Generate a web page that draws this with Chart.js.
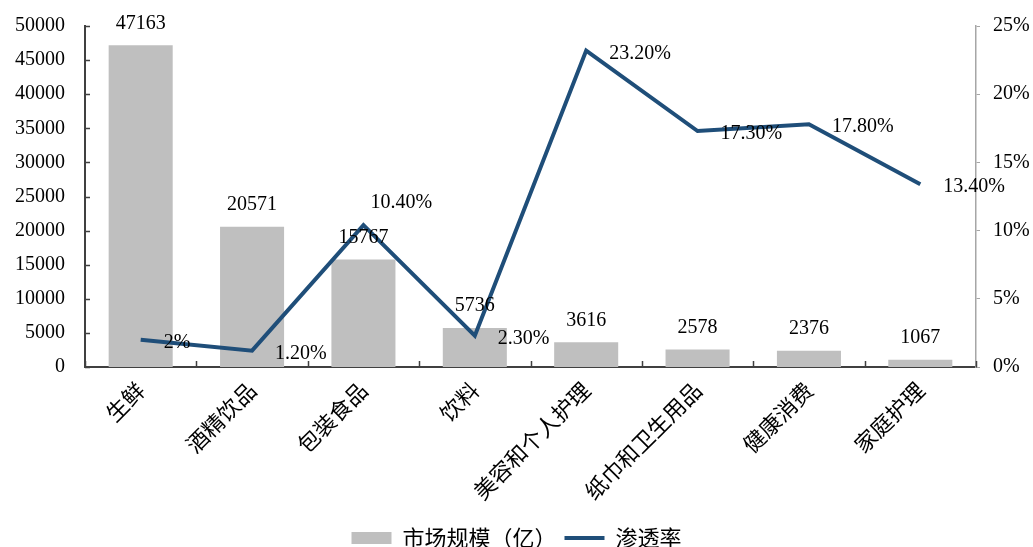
<!DOCTYPE html>
<html>
<head>
<meta charset="utf-8">
<script src="https://cdn.jsdelivr.net/npm/chart.js@4.4.1/dist/chart.umd.min.js"></script>
<style>
  html, body { margin: 0; padding: 0; background: #fff; }
  #wrap { width: 1033px; height: 547px; }
</style>
</head>
<body>
<div id="wrap"><canvas id="chart" width="1033" height="547"></canvas></div>
<script>
const categories = ['生鲜', '酒精饮品', '包装食品', '饮料', '美容和个人护理', '纸巾和卫生用品', '健康消费', '家庭护理'];
const marketSize = [47163, 20571, 15767, 5736, 3616, 2578, 2376, 1067];
const penetration = [2, 1.2, 10.4, 2.3, 23.2, 17.3, 17.8, 13.4];
const penetrationLabels = ['2%', '1.20%', '10.40%', '2.30%', '23.20%', '17.30%', '17.80%', '13.40%'];
const labelSide = ['right', 'right', 'above', 'right', 'right', 'right', 'right', 'right'];
const leftTicks = [0, 5000, 10000, 15000, 20000, 25000, 30000, 35000, 40000, 45000, 50000];
const rightTicks = [0, 5, 10, 15, 20, 25];

const serif = '"Liberation Serif", "Times New Roman", serif';
const cjk = '"Noto Sans CJK SC", sans-serif';
const barColor = '#bfbfbf';
const lineColor = '#1f4e79';

// labels for bars and line points, plus inward tick marks
const labelPlugin = {
    id: 'labels',
    afterDatasetsDraw(chart) {
        const ctx = chart.ctx;
        ctx.save();
        ctx.fillStyle = '#000';
        ctx.font = '20px ' + serif;

        // bar values
        ctx.textAlign = 'center';
        ctx.textBaseline = 'middle';
        chart.getDatasetMeta(0).data.forEach((el, i) => {
            ctx.fillText(String(marketSize[i]), el.x, el.y - 22);
        });

        // penetration values
        chart.getDatasetMeta(1).data.forEach((el, i) => {
            ctx.textAlign = 'left';
            if (labelSide[i] === 'above') {
                ctx.fillText(penetrationLabels[i], el.x + 7, el.y - 22);
            } else {
                ctx.fillText(penetrationLabels[i], el.x + 23, el.y + 3);
            }
        });

        // tick marks pointing inside
        const area = chart.chartArea;
        const x = chart.scales.x;
        const y = chart.scales.y;
        ctx.strokeStyle = '#404040';
        ctx.lineWidth = 1.5;
        ctx.beginPath();
        for (let i = 0; i <= categories.length; i++) {
            const px = Math.round(x.getPixelForValue(i - 0.5)) + 0.5;
            ctx.moveTo(px, area.bottom);
            ctx.lineTo(px, area.bottom - 6);
        }
        leftTicks.forEach(v => {
            const py = Math.round(y.getPixelForValue(v)) + 0.5;
            ctx.moveTo(area.left, py);
            ctx.lineTo(area.left + 5, py);
        });
        ctx.stroke();
        ctx.restore();
    }
};

new Chart(document.getElementById('chart'), {
    data: {
        labels: categories,
        datasets: [
            {
                type: 'bar',
                label: '市场规模（亿）',
                data: marketSize,
                backgroundColor: barColor,
                yAxisID: 'y',
                categoryPercentage: 1,
                barPercentage: 0.575,
                order: 2
            },
            {
                type: 'line',
                label: '渗透率',
                data: penetration,
                borderColor: lineColor,
                backgroundColor: lineColor,
                borderWidth: 4,
                pointRadius: 0,
                tension: 0,
                yAxisID: 'y1',
                order: 1
            }
        ]
    },
    options: {
        responsive: false,
        animation: false,
        layout: { padding: { top: 26, left: 0, right: 0, bottom: -12 } },
        plugins: {
            tooltip: { enabled: false },
            legend: {
                position: 'bottom',
                labels: {
                    color: '#000',
                    font: { family: cjk, size: 22 },
                    usePointStyle: true,
                    pointStyleWidth: 40,
                    boxHeight: 12,
                    padding: 8,
                    generateLabels: () => [
                        { text: '市场规模（亿）', fillStyle: barColor, strokeStyle: barColor, lineWidth: 0, pointStyle: 'rect', datasetIndex: 0, fontColor: '#000' },
                        { text: '渗透率', fillStyle: lineColor, strokeStyle: lineColor, lineWidth: 4, pointStyle: 'line', datasetIndex: 1, fontColor: '#000' }
                    ]
                }
            }
        },
        scales: {
            x: {
                offset: true,
                grid: { display: false, drawTicks: false },
                border: { display: true, color: '#404040', width: 2 },
                ticks: {
                    color: '#000',
                    font: { family: cjk, size: 22 },
                    maxRotation: 45,
                    minRotation: 45,
                    padding: 10,
                    autoSkip: false
                },
                afterFit: s => { s.height = 152; }
            },
            y: {
                position: 'left',
                min: 0,
                max: 50000,
                grid: { display: false, drawTicks: false },
                border: { display: true, color: '#404040', width: 2 },
                afterBuildTicks: s => { s.ticks = leftTicks.map(v => ({ value: v })); },
                ticks: {
                    color: '#000',
                    font: { family: serif, size: 20 },
                    padding: 20,
                    callback: v => String(v)
                },
                afterFit: s => { s.width = 85; s.paddingTop = 0; s.paddingBottom = 0; }
            },
            y1: {
                position: 'right',
                min: 0,
                max: 25,
                grid: { display: true, drawOnChartArea: false, drawTicks: true, tickLength: 4, color: '#a6a6a6' },
                border: { display: true, color: '#a6a6a6', width: 1.5 },
                afterBuildTicks: s => { s.ticks = rightTicks.map(v => ({ value: v })); },
                ticks: {
                    color: '#000',
                    font: { family: serif, size: 20 },
                    padding: 13,
                    callback: v => v + '%'
                },
                afterFit: s => { s.width = 57; s.paddingTop = 0; s.paddingBottom = 0; }
            }
        }
    },
    plugins: [labelPlugin]
});
</script>
</body>
</html>
